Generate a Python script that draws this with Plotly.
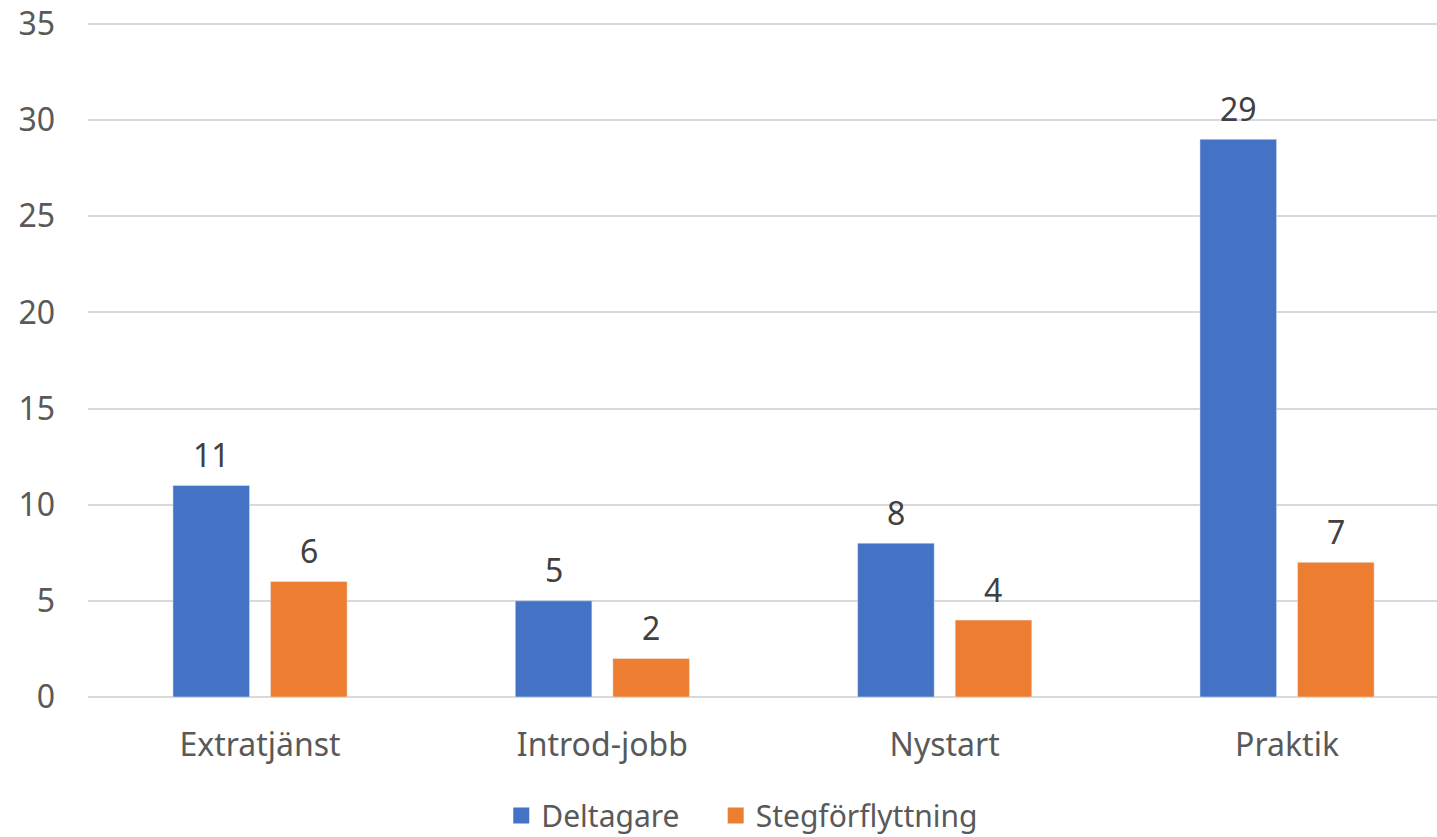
import plotly.graph_objects as go

categories = ["Extratjänst", "Introd-jobb", "Nystart", "Praktik"]
deltagare = [11, 5, 8, 29]
steg = [6, 2, 4, 7]
y_ticks = [0, 5, 10, 15, 20, 25, 30, 35]

font = "Noto Sans"
blue, orange = "#4472C4", "#ED7D31"
fs = 32

fig = go.Figure()
fig.add_trace(go.Bar(name="Deltagare", x=categories, y=deltagare, marker_color=blue, showlegend=False))
fig.add_trace(go.Bar(name="Stegförflyttning", x=categories, y=steg, marker_color=orange, showlegend=False))
# legend proxies with larger square symbols
for name, col in [("Deltagare\u00a0\u00a0\u00a0\u00a0", blue), ("Stegförflyttning", orange)]:
    fig.add_trace(go.Scatter(name=name, x=[None], y=[None], mode="markers",
                             marker=dict(symbol="square", size=22, color=col), showlegend=True))

x_range = [-0.5025, 3.438]
plot_w = 1437 - 88
unit_px = plot_w / (x_range[1] - x_range[0])
slot = unit_px * 0.57 / 2
for series, off in [(deltagare, -slot / 2), (steg, slot / 2)]:
    for c, v in zip(categories, series):
        fig.add_annotation(x=c, y=v, text=str(v), showarrow=False, xshift=off, yshift=31,
                           font=dict(size=fs, color="#404040", family=font))

fig.update_layout(
    width=1437, height=837,
    margin=dict(l=88, r=0, t=20, b=140, autoexpand=False),
    paper_bgcolor="white", plot_bgcolor="white",
    barmode="group", bargap=0.43, bargroupgap=0.215,
    font=dict(family=font, size=fs, color="#595959"),
    xaxis=dict(range=x_range, showgrid=False, showline=False, ticks="", automargin=False,
               ticklabelstandoff=26, tickfont=dict(size=fs, color="#595959")),
    yaxis=dict(range=[0, 35.2], tickvals=y_ticks, showgrid=True, gridcolor="#D9D9D9", gridwidth=1.5,
               zeroline=True, zerolinecolor="#D9D9D9", zerolinewidth=1.5, automargin=False,
               ticks="", ticklabelstandoff=32, tickfont=dict(size=fs, color="#595959")),
    legend=dict(orientation="h", x=0.485, xanchor="center", y=-0.175, yanchor="middle",
                font=dict(size=30, color="#595959"), itemwidth=30, tracegroupgap=0),
    showlegend=True,
)
fig.write_html("out.html", config={"displayModeBar": False},
               post_script="document.body.style.margin='0px';")
